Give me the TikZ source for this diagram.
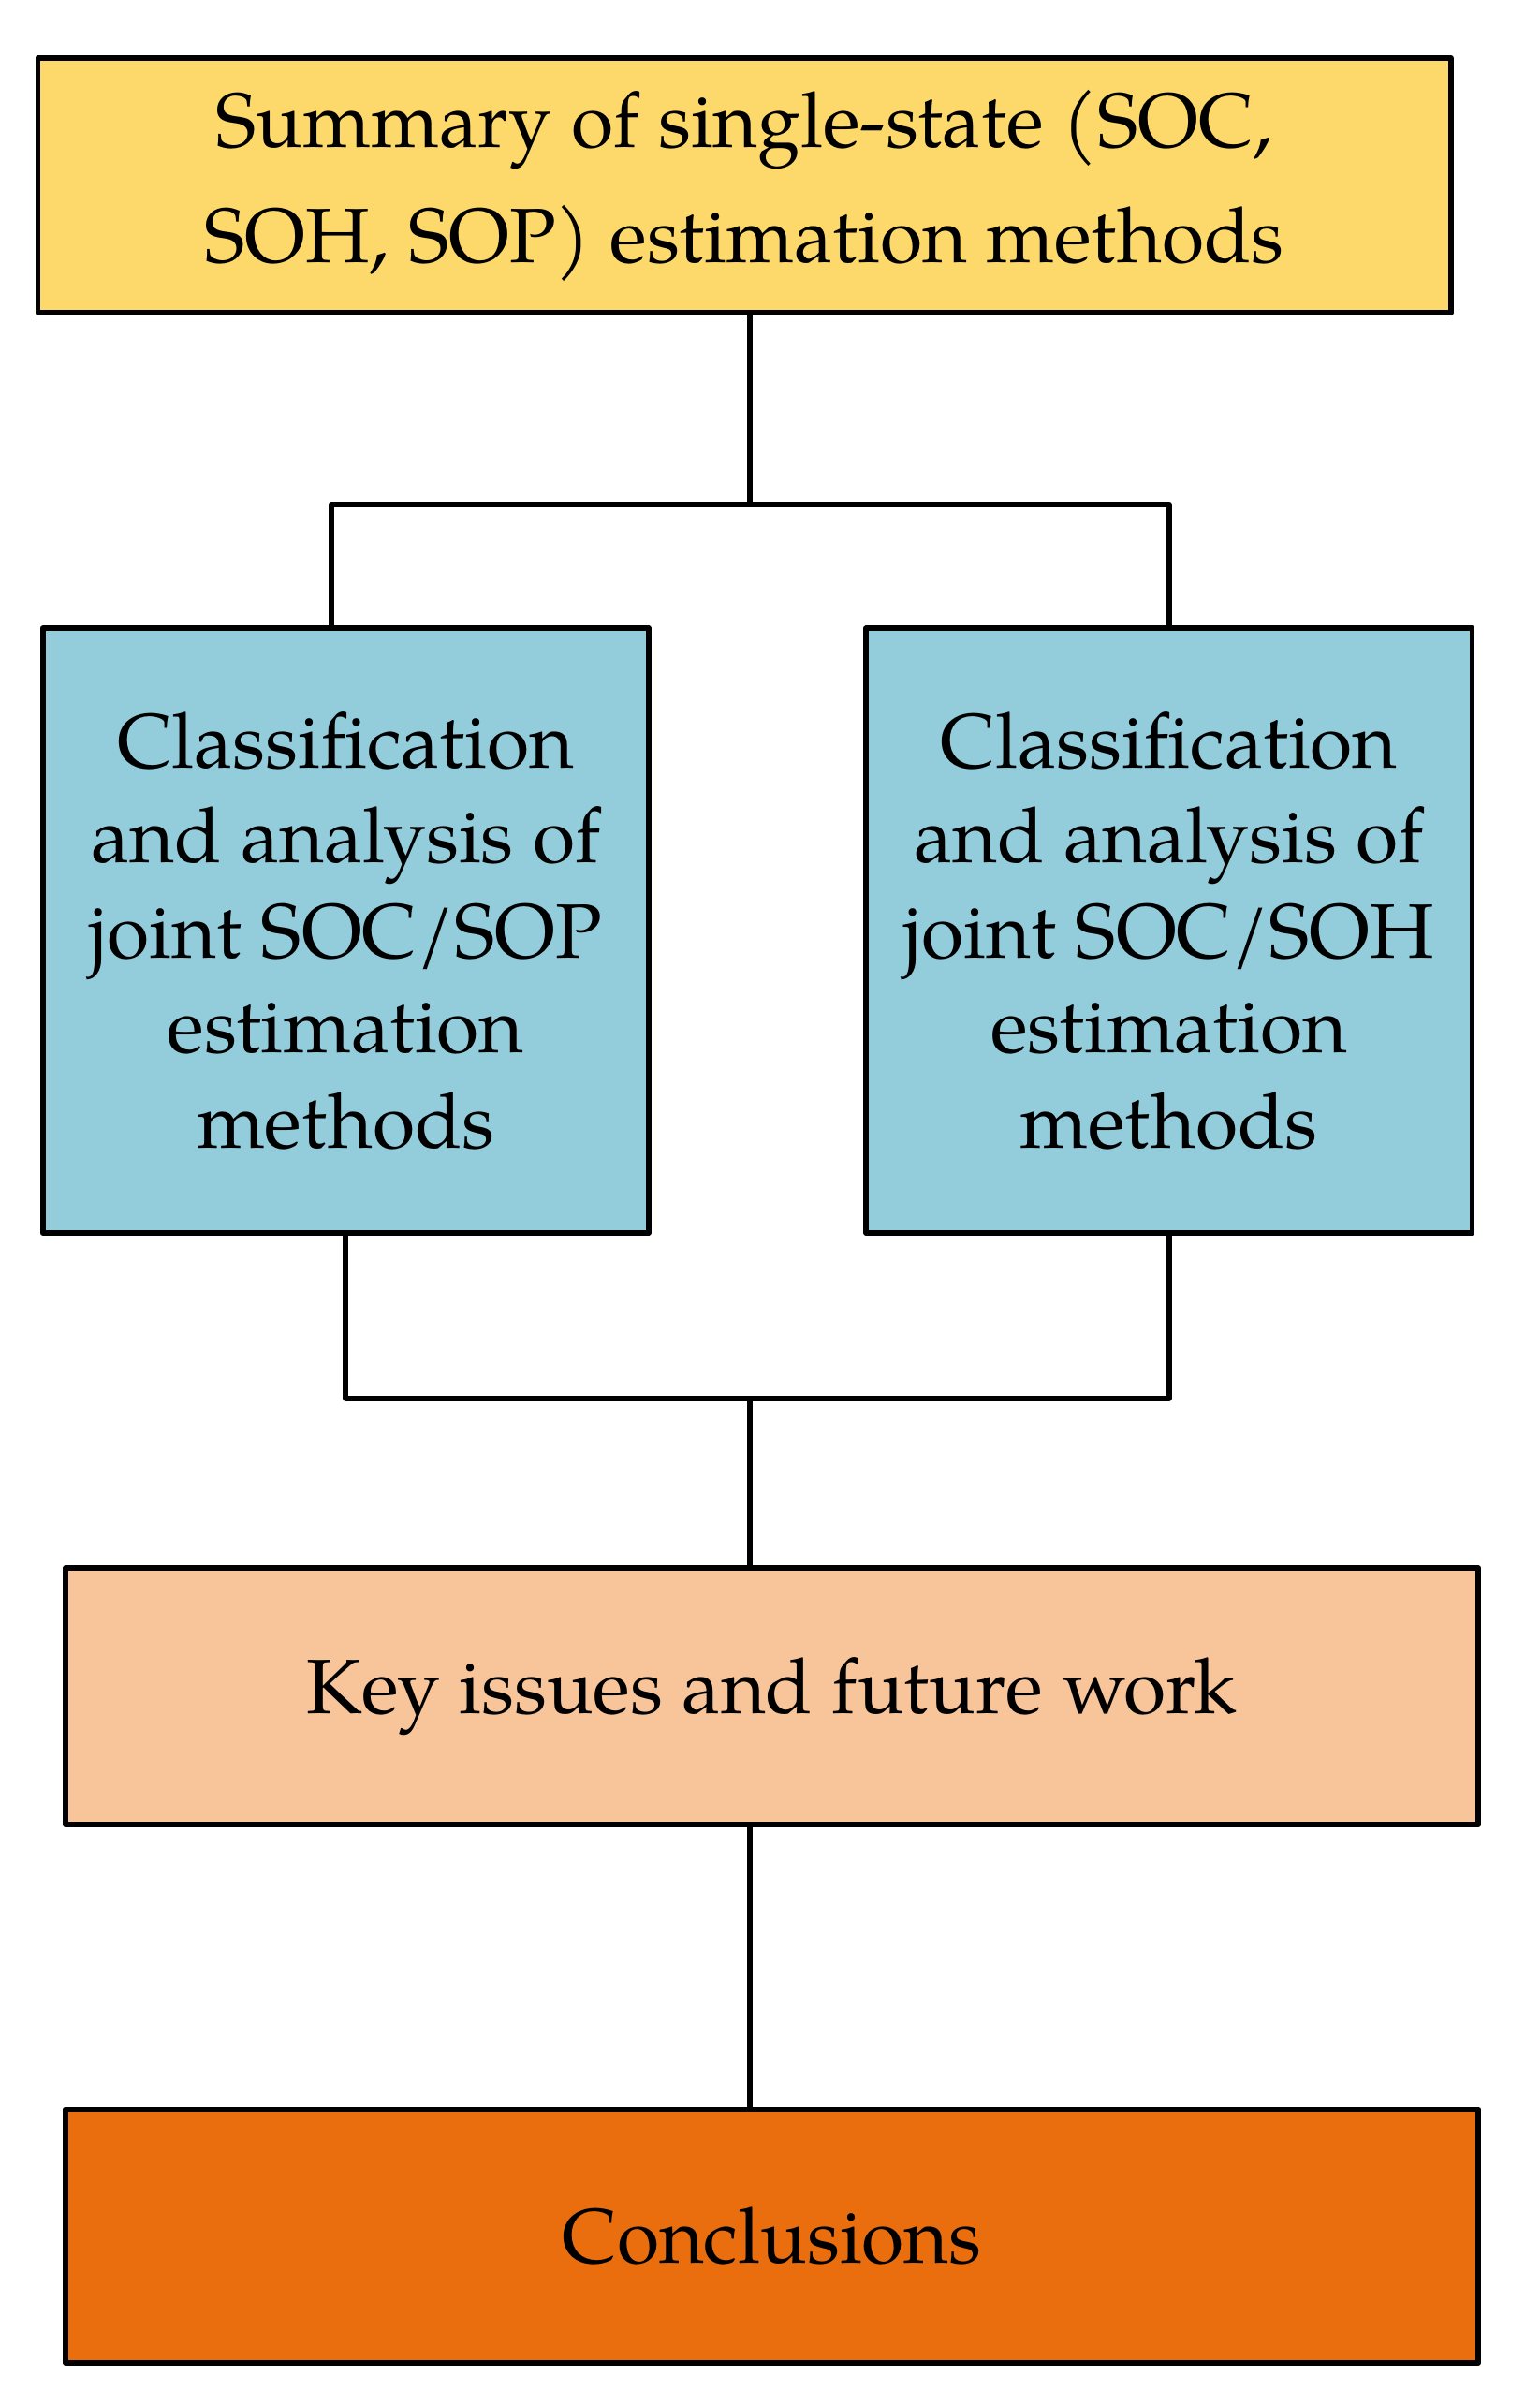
\documentclass[tikz,border=0pt]{standalone}
\usepackage{fontspec}
\setmainfont{TeX Gyre Pagella}
\definecolor{sumyellow}{HTML}{FDD96B}
\definecolor{jointblue}{HTML}{93CDDC}
\definecolor{keypeach}{HTML}{F8C59B}
\definecolor{conclorange}{HTML}{EA6E0E}
\begin{document}
\begin{tikzpicture}[x=0.01cm, y=-0.01cm, line width=1pt, line join=round,
	font=\fontsize{14.3}{17.6}\selectfont,
	block/.style={draw, rectangle, align=center, inner sep=0pt}]
	\useasboundingbox (0,0) rectangle (1004,1568);
	\path
	(489,329) coordinate (J1)
	(216,329) coordinate (L1)
	(489,912) coordinate (J2);
	\node[block, fill=sumyellow, minimum width=9.21cm, minimum height=1.66cm,
		font=\fontsize{14.3}{21.3}\selectfont] (sum) at (485.5,121)
		{Summary of single-state (SOC,\\SOH, SOP) estimation methods};
	\node[block, fill=jointblue, minimum width=3.95cm, minimum height=3.94cm] (sop) at (225.5,607)
		{Classification\\and analysis of\\joint SOC/SOP\\estimation\\methods};
	\node[block, fill=jointblue, minimum width=3.95cm, minimum height=3.94cm] (soh) at (762.5,607)
		{Classification\\and analysis of\\joint SOC/SOH\\estimation\\methods};
	\node[block, fill=keypeach, minimum width=9.21cm, minimum height=1.67cm] (key) at (503.5,1106.5)
		{Key issues and future work};
	\node[block, fill=conclorange, minimum width=9.21cm, minimum height=1.65cm] (con) at (503.5,1458.5)
		{Conclusions};
	\draw (sum.south -| J1) -- (J1) (sop.north -| L1) |- (J1) -| (soh.north);
	\draw (sop.south) |- (J2) -| (soh.south) (J2) -- (key.north -| J2);
	\draw (key.south -| J2) -- (con.north -| J2);
\end{tikzpicture}
\end{document}
